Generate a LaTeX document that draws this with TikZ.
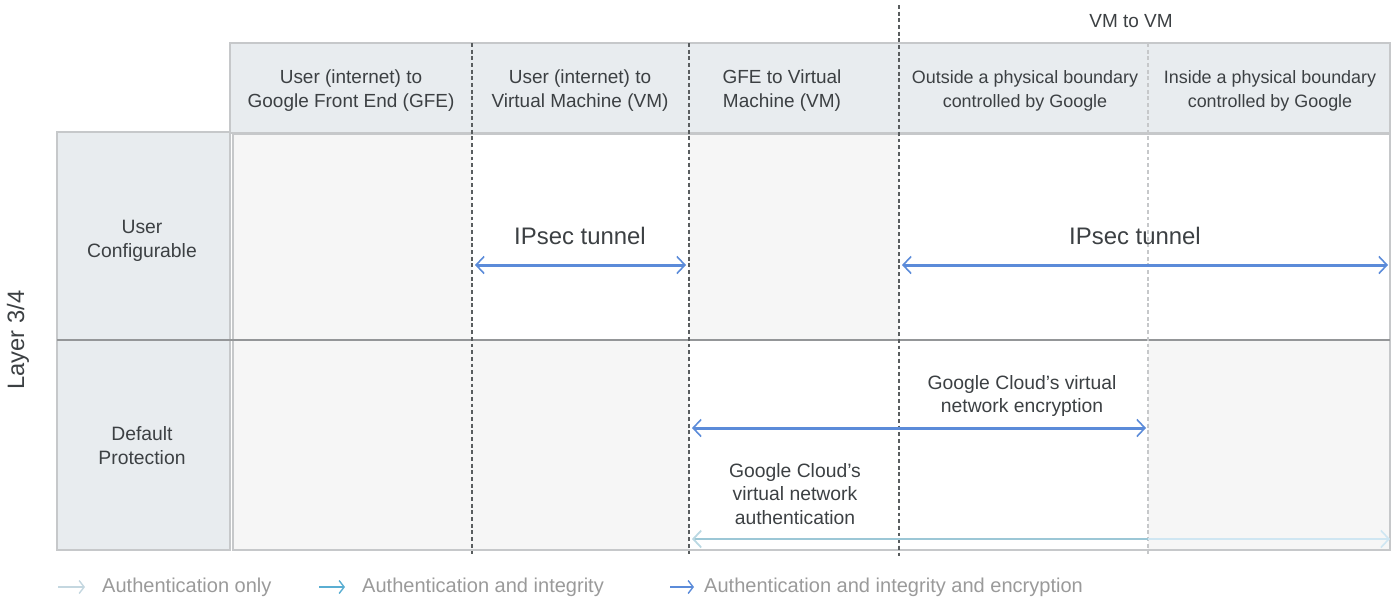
\documentclass[tikz,border=0pt]{standalone}
\usepackage{fontspec}
\setmainfont{Liberation Sans}
\usepackage{xcolor}
\usepackage{tikz}
\usetikzlibrary{positioning,calc,arrows.meta}
\definecolor{GHead}{HTML}{E8ECEF}
\definecolor{GCell}{HTML}{F6F6F6}
\definecolor{GLine}{HTML}{C6C8CA}
\definecolor{GText}{HTML}{3C4043}
\definecolor{GLeg}{HTML}{9A9A9A}
\definecolor{encBlue}{HTML}{5B8BD9}
\definecolor{intTeal}{HTML}{9CC7D6}
\definecolor{legTeal}{HTML}{5AAED2}
\definecolor{authLight}{HTML}{CFE6F2}

\begin{document}
\begin{tikzpicture}[x=0.2mm,y=-0.2mm]
				\tikzset{
					headbox/.style={fill=GHead, draw=GLine, line width=0.7pt},
					lightcell/.style={fill=GCell},
					hdtext/.style={
						align=center,
						text=GText,
						font=\fontsize{10.8}{13.7}\selectfont
					},
					hdsmall/.style={hdtext, font=\fontsize{10.2}{13.7}\selectfont},
					rowtext/.style={hdtext, font=\fontsize{11}{13.7}\selectfont},
					tuntext/.style={text=GText, font=\fontsize{13.6}{16}\selectfont},
					midtext/.style={hdtext, font=\fontsize{11}{13.2}\selectfont},
					legtext/.style={anchor=west, text=GLeg, font=\fontsize{11.4}{14}\selectfont},
					colsep/.style={draw=GText!85, line width=0.9pt, dash pattern=on 2.2pt off 1.6pt},
					colsoft/.style={draw=GLine, line width=0.9pt, dash pattern=on 2.2pt off 1.6pt},
					barb/.tip={Straight Barb[length=1.6mm, width=3.4mm, line width=0.9pt]},
					smallbarb/.tip={Straight Barb[length=1mm, width=2.6mm, line width=0.8pt]},
					encarrow/.style={draw=encBlue, line width=1.7pt, barb-barb},
					intarrow/.style={draw=intTeal, line width=1.6pt},
					authonly/.style={draw=authLight, line width=1.6pt},
					legarrow/.style={line width=1.3pt, -smallbarb}
				}
				\useasboundingbox (0,0) rectangle (1397,602);

				% header row and row labels
				\draw[headbox] (230,43) rectangle (1390,133);
				\draw[headbox] (57,132) rectangle (230,340);
				\draw[headbox] (57,340) rectangle (230,550);

				% body cells
				\fill[lightcell] (233,134) rectangle (472,340);
				\fill[lightcell] (689,134) rectangle (899,340);
				\fill[lightcell] (233,340) rectangle (689,550);
				\fill[lightcell] (1148,340) rectangle (1390,550);
				\draw[draw=GLine, line width=0.7pt] (233,134) rectangle (1390,550);
				\draw[draw=GText!55, line width=1.2pt] (57,340) -- (1390,340);

				% column separators
				\draw[colsep] (472,43) -- (472,554);
				\draw[colsep] (689,43) -- (689,554);
				\draw[colsep] (899,5) -- (899,557);
				\draw[colsoft] (1148,43) -- (1148,554);

				% headings
				\node[hdtext] (hGFE) at (351,91) {User (internet) to\\Google Front End (GFE)};
				\node[hdtext] (hVM) at (580,91) {User (internet) to\\Virtual Machine (VM)};
				\node[hdtext] (hGV) at (782,91) {GFE to Virtual\\Machine (VM)};
				\node[hdsmall] (hOut) at (1025,91) {Outside a physical boundary\\controlled by Google};
				\node[hdsmall] (hIn) at (1270,91) {Inside a physical boundary\\controlled by Google};
				\node[hdtext] (vmvm) at (1131,21) {VM to VM};

				\node[rowtext] (rUser) at (142,241) {User\\Configurable};
				\node[rowtext] (rDef) at (142,446) {Default\\Protection};
				\node[text=GText, rotate=90, font=\fontsize{13.5}{16}\selectfont] (layer) at (18,340) {Layer 3/4};

				% tunnels and default protection
				\coordinate (ipAL) at (475,265);
				\coordinate (ipAR) at (686,265);
				\coordinate (ipBL) at (902,265);
				\coordinate (ipBR) at (1388,265);
				\node[tuntext] (ipA) at (580,236) {IPsec tunnel};
				\node[tuntext] (ipB) at (1135,236) {IPsec tunnel};
				\draw[encarrow] (ipAL) -- (ipAR);
				\draw[encarrow] (ipBL) -- (ipBR);

				\coordinate (encL) at (692,428);
				\coordinate (encR) at (1146,428);
				\node[midtext] (enc) at (1022,396) {Google Cloud’s virtual\\network encryption};
				\draw[encarrow] (encL) -- (encR);

				\coordinate (authL) at (692,539);
				\coordinate (authM) at (1148,539);
				\coordinate (authR) at (1390,539);
				\node[midtext] (auth) at (795,494) {Google Cloud’s\\virtual network\\authentication};
				\draw[intarrow, -{Straight Barb[length=1.6mm, width=3.4mm, line width=1pt, color=intTeal!70]}] (authM) -- (authL);
				\draw[authonly, -barb] (authM) -- (authR);

				% legend
				\coordinate (lgAa) at (58,587);
				\coordinate (lgAb) at (85,587);
				\coordinate (lgBa) at (319,587);
				\coordinate (lgBb) at (345,587);
				\coordinate (lgCa) at (670,587);
				\coordinate (lgCb) at (694,587);
				\draw[legarrow, authLight!80!GLeg] (lgAa) -- (lgAb);
				\draw[legarrow, legTeal] (lgBa) -- (lgBb);
				\draw[legarrow, encBlue] (lgCa) -- (lgCb);
				\node[legtext] (lgA) at (96,587) {Authentication only};
				\node[legtext] (lgB) at (356,587) {Authentication and integrity};
				\node[legtext] (lgC) at (698,587) {Authentication and integrity and encryption};
\end{tikzpicture}
\end{document}
